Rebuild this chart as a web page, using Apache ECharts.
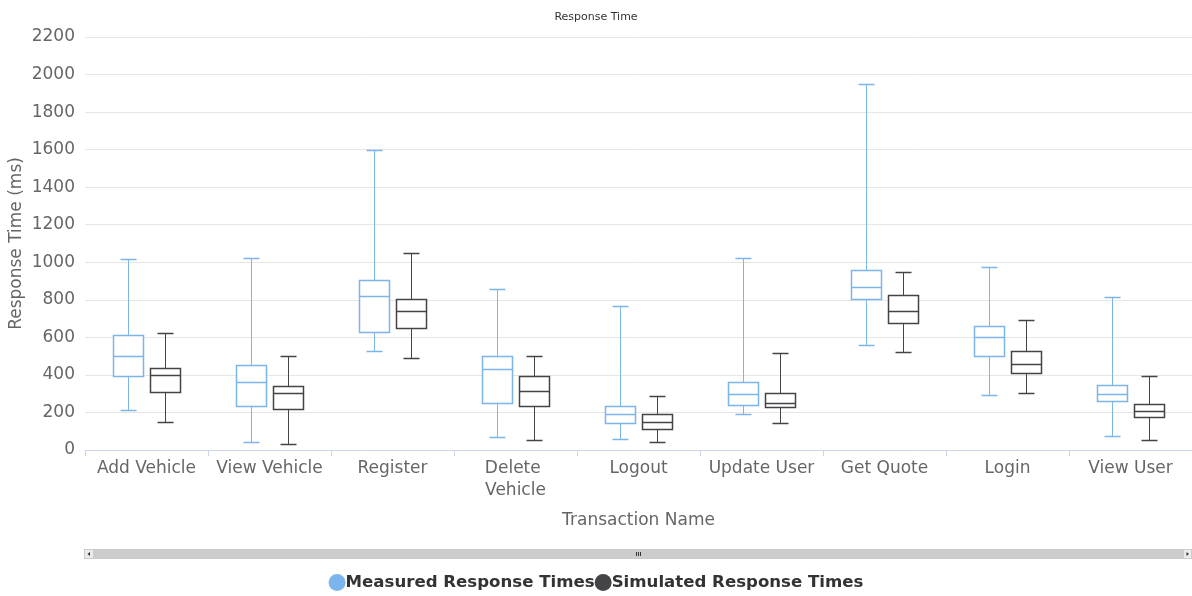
<!DOCTYPE html>
<html>
<head>
<meta charset="utf-8">
<title>Response Time</title>
<script src="https://cdn.jsdelivr.net/npm/echarts@6/dist/echarts.min.js"></script>
<style>
  html, body { margin: 0; padding: 0; background: #ffffff; }
  #chart { width: 1192px; height: 596px; }
</style>
</head>
<body>
<div id="chart"></div>
<script>
// Transactions on the x axis
const categories = ['Add Vehicle', 'View Vehicle', 'Register', 'Delete Vehicle', 'Logout', 'Update User', 'Get Quote', 'Login', 'View User'];

// Five-number summaries in ms: [low, q1, median, q3, high]
const measuredTimes = [
  [215, 392, 503, 611, 1020],
  [44, 232, 362, 453, 1025],
  [526, 631, 822, 905, 1597],
  [70, 253, 433, 501, 859],
  [57, 143, 191, 234, 765],
  [191, 241, 299, 360, 1022],
  [561, 802, 870, 959, 1948],
  [294, 503, 600, 659, 975],
  [77, 260, 299, 346, 816]
];
const simulatedTimes = [
  [150, 310, 400, 435, 622],
  [32, 221, 301, 342, 503],
  [490, 652, 743, 806, 1048],
  [53, 235, 312, 392, 499],
  [44, 114, 151, 194, 285],
  [146, 230, 250, 306, 519],
  [524, 674, 743, 825, 948],
  [303, 408, 460, 528, 693],
  [53, 178, 208, 246, 392]
];

const seriesNames = ['Measured Response Times', 'Simulated Response Times'];
const yTicks = { min: 0, max: 2200, interval: 200 };

const COLORS = ['#7cb5ec', '#434348'];
const FONT = 'DejaVu Sans';

// Box-and-whisker renderer: box, median, whiskers with half-width caps.
function boxRenderer(shiftRatio, color) {
  return function (params, api) {
    const idx = api.value(0);
    const band = api.size([1, 0])[0];
    const pt = v => api.coord([idx, v]);
    const low = pt(api.value(1));
    const q1 = pt(api.value(2));
    const med = pt(api.value(3));
    const q3 = pt(api.value(4));
    const high = pt(api.value(5));
    const cx = Math.round(low[0] + band * shiftRatio) + 0.5;
    const halfBox = Math.round(band * 0.12);
    const halfCap = Math.round(halfBox / 2);
    const snap = p => Math.round(p[1]) + 0.5;
    const stemStyle = { stroke: color, lineWidth: 1, fill: null };
    const thick = { stroke: color, lineWidth: 1.5 };
    return {
      type: 'group',
      children: [
        { type: 'line', shape: { x1: cx, y1: snap(q3), x2: cx, y2: snap(high) }, style: stemStyle },
        { type: 'line', shape: { x1: cx, y1: snap(q1), x2: cx, y2: snap(low) }, style: stemStyle },
        { type: 'line', shape: { x1: cx - halfCap, y1: snap(high), x2: cx + halfCap, y2: snap(high) }, style: thick },
        { type: 'line', shape: { x1: cx - halfCap, y1: snap(low), x2: cx + halfCap, y2: snap(low) }, style: thick },
        { type: 'rect', shape: { x: cx - halfBox, y: snap(q3), width: halfBox * 2, height: snap(q1) - snap(q3) }, style: { stroke: color, lineWidth: 1.5, fill: '#ffffff' } },
        { type: 'line', shape: { x1: cx - halfBox, y1: snap(med), x2: cx + halfBox, y2: snap(med) }, style: thick }
      ]
    };
  };
}

function toItems(rows) {
  return rows.map((r, i) => [i].concat(r));
}

const chart = echarts.init(document.getElementById('chart'), null, { renderer: 'canvas' });

const option = {
  animation: false,
  backgroundColor: '#ffffff',
  textStyle: { fontFamily: FONT },
  title: {
    text: 'Response Time',
    left: 'center',
    top: 7,
    textStyle: { fontFamily: FONT, fontSize: 11, fontWeight: 'normal', color: '#333333' }
  },
  legend: {
    data: seriesNames,
    left: 'center',
    top: 569,
    icon: 'circle',
    itemWidth: 17,
    itemHeight: 17,
    itemGap: 0,
    textStyle: { fontFamily: FONT, fontSize: 16.6, fontWeight: 'bold', color: '#333333', padding: [0, 0, 0, -5] }
  },
  grid: { left: 85, right: 0, top: 37, bottom: 146, containLabel: false, outerBoundsMode: 'none' },
  xAxis: {
    type: 'category',
    data: categories,
    boundaryGap: true,
    name: 'Transaction Name',
    nameLocation: 'middle',
    nameGap: 62,
    nameTextStyle: { fontFamily: FONT, fontSize: 17, color: '#666666' },
    axisLine: { lineStyle: { color: '#ccd6eb', width: 1 } },
    axisTick: { show: true, alignWithLabel: false, length: 6, lineStyle: { color: '#ccd6eb' } },
    axisLabel: {
      fontFamily: FONT, fontSize: 17, color: '#666666', margin: 8,
      width: 115, overflow: 'break', lineHeight: 22, interval: 0
    },
    splitLine: { show: false }
  },
  yAxis: {
    type: 'value',
    min: yTicks.min,
    max: yTicks.max,
    interval: yTicks.interval,
    name: 'Response Time (ms)',
    nameLocation: 'middle',
    nameRotate: 90,
    nameGap: 60,
    nameMoveOverlap: false,
    nameTextStyle: { fontFamily: FONT, fontSize: 17, color: '#666666' },
    axisLine: { show: false },
    axisTick: { show: false },
    axisLabel: { fontFamily: FONT, fontSize: 17, color: '#666666', margin: 10, formatter: v => String(v) },
    splitLine: { lineStyle: { color: '#e6e6e6', width: 1 } }
  },
  series: [
    {
      name: seriesNames[0],
      type: 'custom',
      renderItem: boxRenderer(-0.148, COLORS[0]),
      encode: { x: 0, y: [1, 2, 3, 4, 5] },
      itemStyle: { color: COLORS[0] },
      data: toItems(measuredTimes)
    },
    {
      name: seriesNames[1],
      type: 'custom',
      renderItem: boxRenderer(0.148, COLORS[1]),
      encode: { x: 0, y: [1, 2, 3, 4, 5] },
      itemStyle: { color: COLORS[1] },
      data: toItems(simulatedTimes)
    }
  ],
  // Navigator-style scrollbar under the plot
  graphic: [
    { type: 'rect', shape: { x: 84, y: 549, width: 1108, height: 10 }, style: { fill: '#cccccc' }, silent: true },
    { type: 'rect', shape: { x: 84.5, y: 549.5, width: 9, height: 9 }, style: { fill: '#ebebeb', stroke: '#cccccc', lineWidth: 1 }, silent: true },
    { type: 'polygon', shape: { points: [[87.5, 554], [90, 552], [90, 556]] }, style: { fill: '#333333' }, silent: true },
    { type: 'rect', shape: { x: 1183.5, y: 549.5, width: 8, height: 9 }, style: { fill: '#ebebeb', stroke: '#cccccc', lineWidth: 1 }, silent: true },
    { type: 'polygon', shape: { points: [[1189, 554], [1186.5, 552], [1186.5, 556]] }, style: { fill: '#333333' }, silent: true },
    { type: 'rect', shape: { x: 636, y: 552, width: 1, height: 4 }, style: { fill: '#333333' }, silent: true },
    { type: 'rect', shape: { x: 638, y: 552, width: 1, height: 4 }, style: { fill: '#333333' }, silent: true },
    { type: 'rect', shape: { x: 640, y: 552, width: 1, height: 4 }, style: { fill: '#333333' }, silent: true }
  ]
};

chart.setOption(option);
</script>
</body>
</html>
